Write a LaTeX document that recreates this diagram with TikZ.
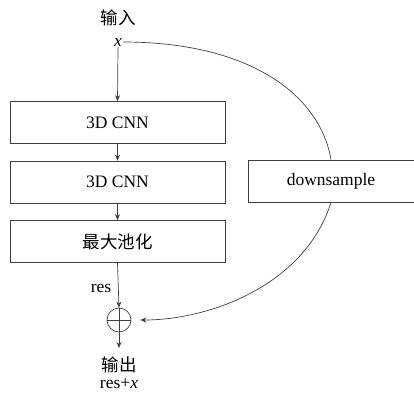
\documentclass[tikz,border=0pt]{standalone}
\usepackage{fontspec}
\setmainfont{Liberation Serif}
\newfontfamily\cjk{Noto Sans CJK SC}
\usetikzlibrary{arrows.meta}
\begin{document}
\begin{tikzpicture}[x=1pt,y=-1pt,
  line/.style={draw=black!75,line width=0.7pt},
  arr/.style={line,-{Stealth[length=6pt,width=5pt]}},
  blk/.style={line,rectangle,minimum width=215pt,minimum height=42pt,inner sep=0pt,font=\fontsize{17.5}{20}\selectfont},
  lbl/.style={inner sep=1pt,font=\fontsize{17.5}{20}\selectfont},
  cjkl/.style={inner sep=1pt,font=\cjk\fontsize{17.5}{20}\selectfont}]
\useasboundingbox (0,0) rectangle (414,392);
\node[cjkl] (in) at (118,18) {输入};
\node[lbl] (x) at (118,42) {\textit{x}};
\node[blk] (c1) at (117.5,122.5) {3D CNN};
\node[blk] (c2) at (117.5,182) {3D CNN};
\node[blk,font=\cjk\fontsize{17.5}{20}\selectfont] (mp) at (117.5,241.5) {最大池化};
\node[line,rectangle,minimum width=166pt,minimum height=42pt,inner sep=0pt,font=\fontsize{17.5}{20}\selectfont] (ds) at (331,181) {downsample};
\node[line,circle,minimum size=24pt,inner sep=0pt] (sum) at (119,320) {};
\draw[line] (sum.north) -- (sum.south) (sum.west) -- (sum.east);
\node[lbl] (res) at (101,288) {res};
\coordinate (outp) at (119,348);
\node[cjkl] (out) at (119,365) {输出};
\node[lbl] (rx) at (119,384) {res+\textit{x}};
\draw[arr] (x.south) -- (c1.north);
\draw[arr] (c1.south) -- (c2.north);
\draw[arr] (c2.south) -- (mp.north);
\draw[arr] (mp.south) -- (sum.north);
\draw[arr] (sum.south) -- (outp);
\draw[line] (x.east) .. controls (250,42) and (320,95) .. (ds.north);
\draw[arr] (ds.south) .. controls (305,285) and (210,320) .. ([xshift=9pt]sum.east);
\end{tikzpicture}
\end{document}
